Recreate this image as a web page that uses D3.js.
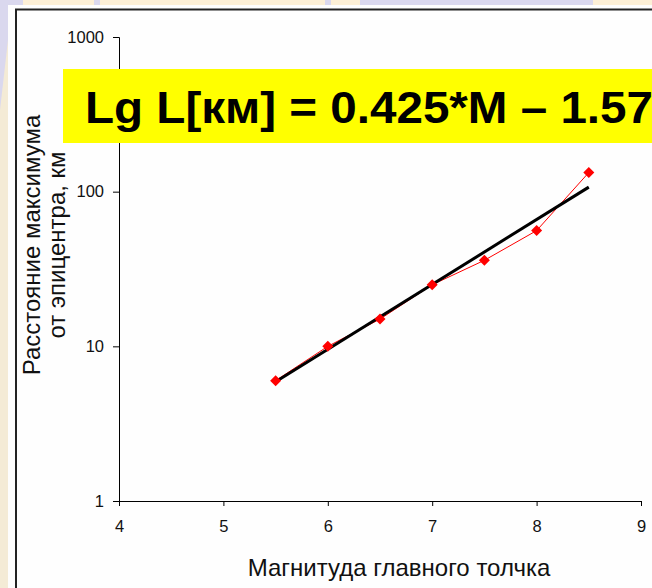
<!DOCTYPE html>
<html>
<head>
<meta charset="utf-8">
<script src="https://cdn.jsdelivr.net/npm/d3@7"></script>
<style>
  body { margin: 0; background: #fdfdfd; }
  svg { display: block; font-family: "Liberation Sans", Arial, sans-serif; }
</style>
</head>
<body>
<script>
// data
var magnitude = [5.5, 6, 6.5, 7, 7.5, 8, 8.5];
var distance = [6, 10, 15, 25, 36, 56, 133];
var fitMagnitude = [5.5, 8.5];
var fitDistance = [5.9, 107];
var xTicks = [4, 5, 6, 7, 8, 9];
var yTicks = [1, 10, 100, 1000];
var formulaText = "Lg L[км] = 0.425*M \u2013 1.57";
var xTitle = "Магнитуда главного толчка";
var yTitle = ["Расстояние максимума", "от эпицентра, км"];

var width = 652, height = 588;

var svg = d3.select("body")
    .append("svg")
    .attr("width", width)
    .attr("height", height);

// slide decoration strips
var lav = "#dad8ee", cream = "#fcefd6";
var topStrip = [[0, 23, lav], [23, 94, cream], [94, 100, lav], [100, 325, cream],
    [325, 331, lav], [331, 360, cream], [360, 593, lav], [593, 652, cream]];
svg.selectAll("rect.strip")
    .data(topStrip)
    .enter().append("rect")
    .attr("x", function (d) { return d[0]; })
    .attr("y", 0)
    .attr("width", function (d) { return d[1] - d[0]; })
    .attr("height", 5)
    .attr("fill", function (d) { return d[2]; });

svg.append("rect")
    .attr("x", 0).attr("y", 5).attr("width", 8).attr("height", height - 5)
    .attr("fill", "#f4ebd6");
svg.append("path")
    .attr("d", "M0,5 L8,5 L8,40 L0,110 Z")
    .attr("fill", lav);

// chart box
svg.append("rect")
    .attr("x", 16).attr("y", 9.5)
    .attr("width", 700).attr("height", 700)
    .attr("fill", "#fefefe")
    .attr("stroke", "#222")
    .attr("stroke-width", 2);

var x = d3.scaleLinear().domain([4, 9]).range([119, 641]);
var y = d3.scaleLog().domain([1, 1000]).range([501, 37]);

var xAxis = svg.append("g")
    .attr("transform", "translate(0," + y(1) + ")")
    .call(d3.axisBottom(x).tickValues(xTicks).tickSize(5).tickPadding(14).tickFormat(d3.format("d")));
var yAxis = svg.append("g")
    .attr("transform", "translate(" + x(4) + ",0)")
    .call(d3.axisLeft(y).tickValues(yTicks).tickSize(6).tickPadding(9).tickFormat(d3.format("d")));

[xAxis, yAxis].forEach(function (a) {
    a.select(".domain").attr("stroke", "#000");
    a.selectAll("line").attr("stroke", "#000");
    a.selectAll("text")
        .attr("fill", "#111")
        .style("font-size", "16.5px")
        .style("font-family", "'Liberation Sans', Arial, sans-serif");
});

// data line
var pts = magnitude.map(function (m, i) { return [m, distance[i]]; });
var line = d3.line()
    .x(function (d) { return x(d[0]); })
    .y(function (d) { return y(d[1]); });

svg.append("path")
    .datum(pts)
    .attr("d", line)
    .attr("fill", "none")
    .attr("stroke", "#ff0000")
    .attr("stroke-width", 1);

// fit line
svg.append("path")
    .datum(fitMagnitude.map(function (m, i) { return [m, fitDistance[i]]; }))
    .attr("d", line)
    .attr("fill", "none")
    .attr("stroke", "#000")
    .attr("stroke-width", 3);

svg.selectAll("path.pt")
    .data(pts)
    .enter().append("path")
    .attr("class", "pt")
    .attr("transform", function (d) { return "translate(" + x(d[0]) + "," + y(d[1]) + ")"; })
    .attr("d", "M0,-5.5 L5.5,0 L0,5.5 L-5.5,0 Z")
    .attr("fill", "#ff0000");

// axis titles
svg.append("text")
    .attr("x", 399).attr("y", 576)
    .attr("text-anchor", "middle")
    .style("font-size", "24px")
    .attr("fill", "#111")
    .text(xTitle);

svg.selectAll("text.ytitle")
    .data(yTitle)
    .enter().append("text")
    .attr("class", "ytitle")
    .attr("transform", function (d, i) { return "translate(" + (40 + i * 25) + ",245) rotate(-90)"; })
    .attr("text-anchor", "middle")
    .style("font-size", "24px")
    .attr("fill", "#111")
    .text(function (d) { return d; });

// formula banner
svg.append("rect")
    .attr("x", 63).attr("y", 69)
    .attr("width", 600).attr("height", 74)
    .attr("fill", "#ffff00");
svg.append("text")
    .attr("x", 85).attr("y", 123)
    .attr("textLength", 568)
    .attr("lengthAdjust", "spacingAndGlyphs")
    .style("font-size", "45px")
    .style("font-weight", "bold")
    .attr("fill", "#000")
    .text(formulaText);
</script>
</body>
</html>
